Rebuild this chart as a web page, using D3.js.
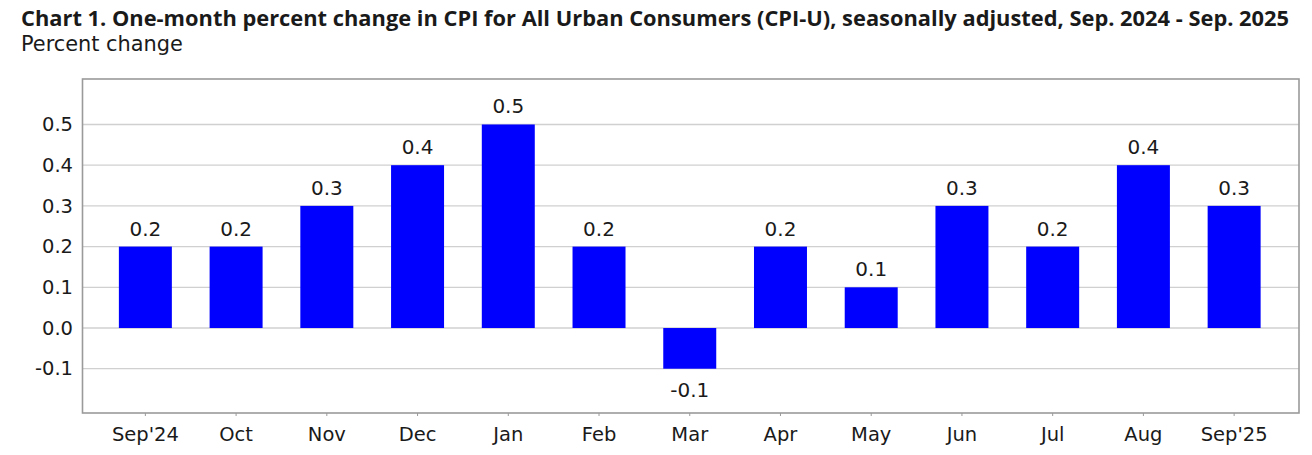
<!DOCTYPE html>
<html><head><meta charset="utf-8">
<script src="https://cdn.jsdelivr.net/npm/d3@7"></script>
<style>body{margin:0;background:#fff}svg{display:block}text{font-family:"DejaVu Sans",Verdana,sans-serif;fill:#1a1a1a}</style>
</head><body><svg id="c" width="1312" height="455"></svg>
<script>
const categories=["Sep'24","Oct","Nov","Dec","Jan","Feb","Mar","Apr","May","Jun","Jul","Aug","Sep'25"];
const values=[0.2,0.2,0.3,0.4,0.5,0.2,-0.1,0.2,0.1,0.3,0.2,0.4,0.3];
const yTicks=[-0.1,0.0,0.1,0.2,0.3,0.4,0.5];
const title="Chart 1. One-month percent change in CPI for All Urban Consumers (CPI-U), seasonally adjusted, Sep. 2024 - Sep. 2025";
const yLabel="Percent change";

const fmt=d=>d.toFixed(1);
const svg=d3.select("#c");
const frame={l:82.5,r:1299,t:79,b:413};
const y=d3.scaleLinear().domain([-0.21,0.61]).range([413.5,79.7]);
const x=d3.scaleBand().domain(categories).range([100,1279.5]).paddingInner(0.416).paddingOuter(0.208);

// gridlines
svg.append("g").selectAll("line").data(yTicks).join("line")
  .attr("x1",frame.l).attr("x2",frame.r).attr("y1",d=>y(d)).attr("y2",d=>y(d))
  .attr("stroke","#d0d0d0").attr("stroke-width",1.3);

// bars
svg.append("g").selectAll("rect").data(values).join("rect")
  .attr("x",(d,i)=>x(categories[i])).attr("width",x.bandwidth())
  .attr("y",d=>y(Math.max(0,d))).attr("height",d=>Math.abs(y(d)-y(0)))
  .attr("fill","#0000ff");

// frame
svg.append("rect").attr("x",frame.l).attr("y",frame.t).attr("width",frame.r-frame.l).attr("height",frame.b-frame.t)
  .attr("fill","none").attr("stroke","#9a9a9a").attr("stroke-width",1.6);

// y axis labels
const yAxis=d3.axisLeft(y).tickValues(yTicks).tickFormat(fmt).tickSize(0).tickPadding(9.5);
const ya=svg.append("g").attr("transform",`translate(${frame.l},0)`).call(yAxis);
ya.select(".domain").remove();
ya.selectAll("text").attr("font-size",19.5).attr("fill","#1a1a1a").style("font-family",'"DejaVu Sans",Verdana,sans-serif');

// x axis
const xAxis=d3.axisBottom(x).tickSize(3).tickPadding(11);
const xa=svg.append("g").attr("transform",`translate(0,${frame.b})`).call(xAxis);
xa.select(".domain").remove();
xa.selectAll("line").attr("stroke","#9a9a9a");
xa.selectAll("text").attr("font-size",19.5).attr("fill","#1a1a1a").style("font-family",'"DejaVu Sans",Verdana,sans-serif');

// value labels
svg.append("g").selectAll("text").data(values).join("text")
  .attr("x",(d,i)=>x(categories[i])+x.bandwidth()/2)
  .attr("y",d=>d>=0?y(d)-11:y(d)+28)
  .attr("text-anchor","middle").attr("font-size",20)
  .text(fmt);

// title
const t=svg.append("text").attr("x",21).attr("y",26).attr("font-weight","bold").attr("font-size",20)
  .style("font-family",'"Open Sans",sans-serif').text(title);
const w=t.node().getComputedTextLength();
t.attr("font-size",20*1269/w);
const p=svg.append("text").attr("x",21).attr("y",51).attr("font-size",18).text(yLabel);
const pw=p.node().getComputedTextLength();
p.attr("font-size",18*162/pw);
</script></body></html>
